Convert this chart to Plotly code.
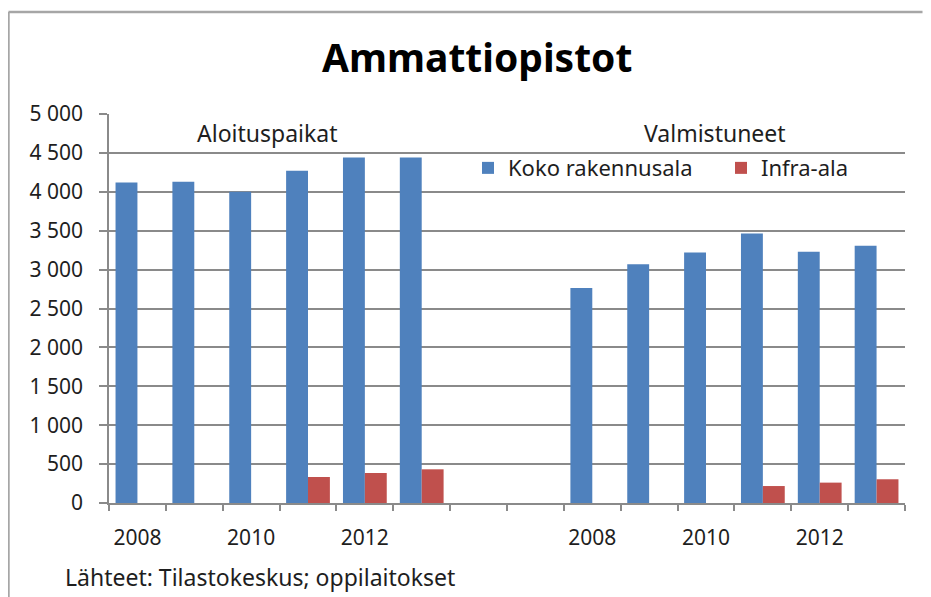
import plotly.graph_objects as go

# Data
vuodet = ["2008", "2009", "2010", "2011", "2012", "2013"]
aloitus_koko = [4120, 4130, 4000, 4270, 4440, 4440]
aloitus_infra = [None, None, None, 334, 386, 433]
valmis_koko = [2765, 3070, 3220, 3465, 3230, 3305]
valmis_infra = [None, None, None, 218, 262, 305]
ryhmat = ["Aloituspaikat", "Valmistuneet"]
sarjat = ["Koko rakennusala", "Infra-ala"]
nayta_vuodet = ["2008", "2010", "2012"]
y_ticks = list(range(0, 5001, 500))

SININEN = "#4F81BD"
PUNAINEN = "#C0504D"
HARMAA = "#8a8a8a"
TEKSTI = "#1e1e1e"
FONTTI = "Noto Sans"

# two blocks of six years with two empty slots between
n = len(vuodet)
valitauko = 2
x_alku = list(range(n))
x_loppu = [n + valitauko + i for i in range(n)]
x_kaikki = x_alku + x_loppu

fig = go.Figure()
fig.add_trace(go.Bar(
    x=x_kaikki, y=aloitus_koko + valmis_koko,
    name=sarjat[0], marker=dict(color=SININEN, line=dict(width=0)),
))
fig.add_trace(go.Bar(
    x=x_kaikki, y=aloitus_infra + valmis_infra,
    name=sarjat[1], marker=dict(color=PUNAINEN, line=dict(width=0)),
))

tickvals = [x for x, v in zip(x_kaikki, vuodet * 2) if v in nayta_vuodet]
ticktext = [v for v in vuodet * 2 if v in nayta_vuodet]
rajat = [i - 0.5 for i in range(len(vuodet) * 2 + valitauko + 1)]

# the page body adds 8px around the figure
fig.update_layout(
    width=915, height=589,
    margin=dict(l=101, r=18, t=106, b=94, autoexpand=False),
    paper_bgcolor="white", plot_bgcolor="white",
    barmode="group", bargap=0.23, bargroupgap=0,
    separators=", ",
    font=dict(family=FONTTI, size=21, color=TEKSTI),
    showlegend=True,
    legend=dict(
        orientation="h", x=0.451, y=0.861, xanchor="left", yanchor="middle",
        font=dict(size=22), bgcolor="rgba(0,0,0,0)", entrywidth=208,
        itemwidth=30, traceorder="normal",
    ),
    xaxis=dict(
        range=[-0.5, len(rajat) - 1.5], tickvals=tickvals, ticktext=ticktext,
        ticks="", showgrid=False, showline=True, linecolor=HARMAA, linewidth=1.5,
        ticklabelstandoff=15, tickfont=dict(size=21),
        minor=dict(tickvals=rajat, ticks="outside", ticklen=6, tickcolor=HARMAA,
                   tickwidth=1.5, showgrid=False),
        zeroline=False,
    ),
    yaxis=dict(
        range=[0, 5000], tickvals=y_ticks, tickformat=",d",
        ticks="outside", ticklen=8, tickcolor=HARMAA, tickwidth=1.5,
        showgrid=True, gridcolor=HARMAA, gridwidth=1.5,
        showline=True, linecolor=HARMAA, linewidth=1.5,
        zeroline=False, tickfont=dict(size=21), ticklabelstandoff=12,
    ),
)

fig.add_annotation(text="<b>Ammattiopistot</b>", xref="paper", yref="paper",
                   x=0.462, y=1.149, xanchor="center", yanchor="middle",
                   showarrow=False, font=dict(size=39, color="black"))
fig.add_annotation(text=ryhmat[0], xref="paper", yref="paper",
                   x=0.1985, y=0.951, xanchor="center", yanchor="middle",
                   showarrow=False, font=dict(size=23))
fig.add_annotation(text=ryhmat[1], xref="paper", yref="paper",
                   x=0.761, y=0.951, xanchor="center", yanchor="middle",
                   showarrow=False, font=dict(size=23))
fig.add_annotation(text="Lähteet: Tilastokeskus; oppilaitokset", xref="paper", yref="paper",
                   x=-0.058, y=-0.19, xanchor="left", yanchor="middle",
                   showarrow=False, font=dict(size=23))

# outer frame: left and top edges
fig.add_shape(type="line", xref="paper", yref="paper", x0=-0.1263, x1=-0.1263,
              y0=-0.35, y1=1.262, line=dict(color="#a6a6a6", width=2.5))
fig.add_shape(type="line", xref="paper", yref="paper", x0=-0.1263, x1=1.022,
              y0=1.262, y1=1.262, line=dict(color="#a6a6a6", width=2.5))

fig.write_html("out.html", config={"displayModeBar": False})
